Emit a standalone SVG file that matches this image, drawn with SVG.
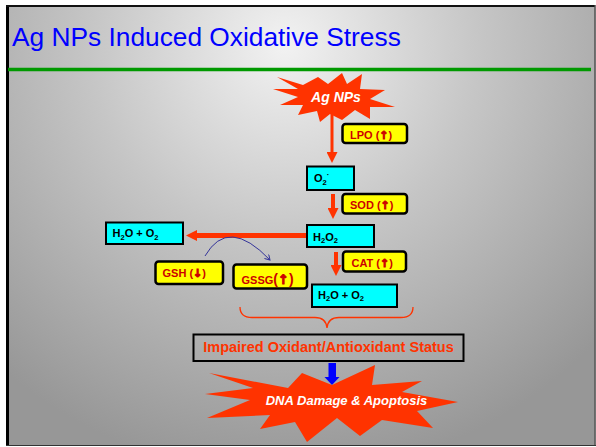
<svg xmlns="http://www.w3.org/2000/svg" width="596" height="447" viewBox="0 0 596 447">
  <defs>
    <radialGradient id="slideBg" gradientUnits="userSpaceOnUse" cx="285" cy="45" r="430">
      <stop offset="0" stop-color="#f2f2f2"/>
      <stop offset="0.45" stop-color="#c6c6c6"/>
      <stop offset="1" stop-color="#979797"/>
    </radialGradient>
    <marker id="redHead" viewBox="0 0 11 11" markerWidth="11" markerHeight="11" refX="4" refY="5.5" orient="auto" markerUnits="userSpaceOnUse">
      <path d="M0,0 L11,5.5 L0,11 z" fill="#ff3300"/>
    </marker>
    <marker id="thinHead" viewBox="0 0 6 6" markerWidth="6" markerHeight="6" refX="5" refY="3" orient="auto" markerUnits="userSpaceOnUse">
      <path d="M0,0 L5,3 L0,6" fill="none" stroke="#333399" stroke-width="1"/>
    </marker>
  </defs>
  <style>
    .title { font-family: "Liberation Sans", Arial, sans-serif; font-size: 26.3px; fill: #0000ff; }
    .cyan { fill: #00ffff; stroke: #000; stroke-width: 2; }
    .yellow { fill: #ffff00; stroke: #000; stroke-width: 2.5; }
    .chem { font-family: "Liberation Sans", Arial, sans-serif; font-size: 11px; font-weight: bold; fill: #000; }
    .enz { font-family: "Liberation Sans", Arial, sans-serif; font-size: 11px; font-weight: bold; fill: #cc0000; }
    .arr { font-family: "DejaVu Sans", sans-serif; font-weight: bold; stroke: #cc0000; stroke-width: 0.9; }
    .burst { fill: #ff3300; }
    .burstText { font-family: "Liberation Sans", Arial, sans-serif; font-weight: bold; font-style: italic; fill: #fff; text-anchor: middle; }
    .flow { stroke: #ff3300; fill: none; marker-end: url(#redHead); }
  </style>

  <!-- slide frame and background -->
  <rect x="0" y="0" width="596" height="447" fill="#fff"/>
  <rect x="7.5" y="6" width="587" height="439.5" fill="url(#slideBg)"/>
  <line x1="7.5" y1="5" x2="7.5" y2="446" stroke="#000" stroke-width="3"/>
  <line x1="6" y1="6" x2="595" y2="6" stroke="#111" stroke-width="2"/>
  <line x1="595" y1="5" x2="595" y2="446" stroke="#444" stroke-width="1.5"/>
  <line x1="6" y1="445.5" x2="596" y2="445.5" stroke="#333" stroke-width="1"/>

  <!-- title -->
  <text class="title" x="12" y="45.5">Ag NPs Induced Oxidative Stress</text>
  <line x1="8" y1="69.5" x2="591" y2="69.5" stroke="#009900" stroke-width="3.5"/>

  <!-- connectors -->
  <g id="connectors">
    <line class="flow" x1="332" y1="112" x2="332" y2="156" stroke-width="3"/>
    <line class="flow" x1="333" y1="194" x2="333" y2="212" stroke-width="4"/>
    <line class="flow" x1="307" y1="235.5" x2="193" y2="235.5" stroke-width="5"/>
    <line class="flow" x1="336" y1="252" x2="336" y2="269" stroke-width="4"/>
    <path d="M205,256 Q228,216 270,260" fill="none" stroke="#333399" stroke-width="1" marker-end="url(#thinHead)"/>
    <!-- brace gathering the reactions -->
    <path d="M240,307 Q240,317.5 252,317.5 L315,317.5 Q326,317.5 327,328 Q328,317.5 339,317.5 L401,317.5 Q413,317.5 413,307" fill="none" stroke="#ff3300" stroke-width="1.3"/>
    <!-- blue block arrow -->
    <polygon points="328.5,363 336,363 336,377 339.5,377 332,385 324.5,377 328.5,377" fill="#0000ff"/>
  </g>

  <!-- Ag NPs burst -->
  <g id="agnps">
    <polygon class="burst" points="277,77 303,85 318,77 328,84 342,73 347,84 362,74 360,89 385,90 370,99 395,107 370,107 370,119 355,110 342,120 330,114 320,122 317,111 298,115 303,105 280,105 298,97 273,89 298,89"/>
    <text class="burstText" x="336" y="102" font-size="14">Ag NPs</text>
  </g>

  <g id="lpo">
    <rect class="yellow" x="342.5" y="124" width="64.5" height="19" rx="3"/>
    <text class="enz" x="350" y="138.5">LPO (<tspan class="arr">↑</tspan>)</text>
  </g>

  <g id="o2">
    <rect class="cyan" x="307" y="166.5" width="47" height="23.5"/>
    <text class="chem" x="314" y="182">O<tspan font-size="7.5" dy="2.5">2</tspan><tspan font-size="8" dy="-8">·</tspan></text>
  </g>

  <g id="sod">
    <rect class="yellow" x="342.5" y="194" width="64.5" height="19.5" rx="3"/>
    <text class="enz" x="350" y="209">SOD (<tspan class="arr">↑</tspan>)</text>
  </g>

  <g id="h2o2">
    <rect class="cyan" x="307" y="225" width="67" height="22"/>
    <text class="chem" x="313" y="240.5">H<tspan font-size="7.5" dy="2.5">2</tspan><tspan dy="-2.5">O</tspan><tspan font-size="7.5" dy="2.5">2</tspan></text>
  </g>

  <g id="water-left">
    <rect class="cyan" x="106" y="222.5" width="77" height="21.5"/>
    <text class="chem" x="112.5" y="237">H<tspan font-size="7.5" dy="2.5">2</tspan><tspan dy="-2.5">O + O</tspan><tspan font-size="7.5" dy="2.5">2</tspan></text>
  </g>

  <g id="cat">
    <rect class="yellow" x="343" y="251.5" width="63" height="20" rx="3"/>
    <text class="enz" x="351.5" y="267">CAT (<tspan class="arr">↑</tspan>)</text>
  </g>

  <g id="gsh">
    <rect class="yellow" x="155.5" y="261.5" width="67.5" height="22.5" rx="3"/>
    <text class="enz" x="162.5" y="277">GSH (<tspan class="arr">↓</tspan>)</text>
  </g>

  <g id="gssg">
    <rect class="yellow" x="233.5" y="264.5" width="73.5" height="24" rx="3"/>
    <text class="enz" x="241.5" y="284">GSSG<tspan font-size="14">(</tspan><tspan class="arr" font-size="13">↑</tspan><tspan font-size="14">)</tspan></text>
  </g>

  <g id="water-right">
    <rect class="cyan" x="312" y="284.5" width="85" height="22.5"/>
    <text class="chem" x="318" y="298.5">H<tspan font-size="7.5" dy="2.5">2</tspan><tspan dy="-2.5">O + O</tspan><tspan font-size="7.5" dy="2.5">2</tspan></text>
  </g>

  <g id="status">
    <rect x="193.5" y="334.5" width="270" height="26.5" fill="none" stroke="#000" stroke-width="2"/>
    <text x="328.5" y="352" font-family="Liberation Sans, Arial, sans-serif" font-size="14.5" font-weight="bold" fill="#ff3300" text-anchor="middle">Impaired Oxidant/Antioxidant Status</text>
  </g>

  <!-- DNA damage burst -->
  <g id="dna">
    <polygon class="burst" points="209,373 288,388 302,373 332,385 375,365 372,385 422,381 402,392 458,402 417,411 433,428 382,420 360,436 337,418 307,442 295,422 260,429 270,415 207,418 250,400 205,394 253,388"/>
    <text class="burstText" x="346.5" y="405" font-size="13">DNA Damage &amp; Apoptosis</text>
  </g>
</svg>
